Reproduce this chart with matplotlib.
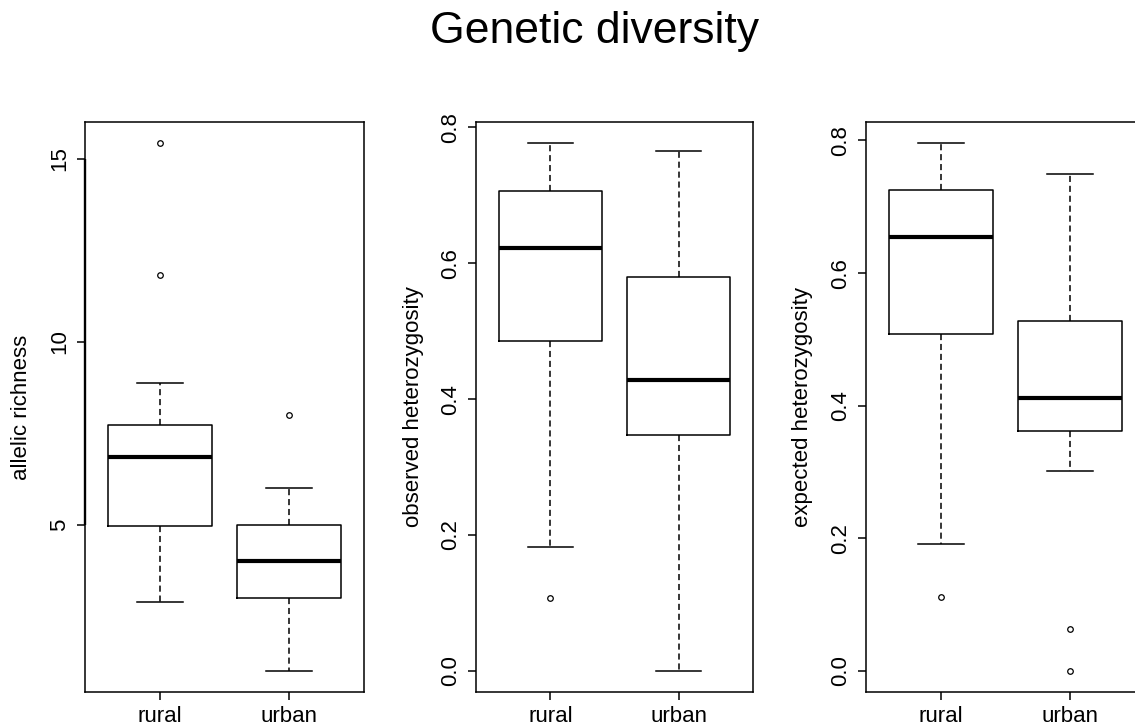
import matplotlib
matplotlib.use("Agg")
import matplotlib.pyplot as plt

plt.rcParams['font.family'] = ['Liberation Sans', 'DejaVu Sans']

# ---- data ----
categories = ["rural", "urban"]

# allelic richness
ar_whislo = [2.88, 1.00]
ar_q1 = [4.97, 3.00]
ar_med = [6.86, 4.00]
ar_q3 = [7.71, 5.00]
ar_whishi = [8.88, 6.00]
ar_fliers = [[11.82, 15.43], [8.0]]

# observed heterozygosity
ho_whislo = [0.183, 0.000]
ho_q1 = [0.486, 0.347]
ho_med = [0.622, 0.428]
ho_q3 = [0.707, 0.580]
ho_whishi = [0.777, 0.766]
ho_fliers = [[0.107], []]

# expected heterozygosity
he_whislo = [0.191, 0.301]
he_q1 = [0.508, 0.362]
he_med = [0.655, 0.411]
he_q3 = [0.725, 0.528]
he_whishi = [0.796, 0.750]
he_fliers = [[0.112], [0.063, 0.0]]

ylabels = ["allelic richness", "observed heterozygosity", "expected heterozygosity"]
yticks_list = [[5, 10, 15], [0.0, 0.2, 0.4, 0.6, 0.8], [0.0, 0.2, 0.4, 0.6, 0.8]]
yticklabels_list = [["5", "10", "15"],
                    ["0.0", "0.2", "0.4", "0.6", "0.8"],
                    ["0.0", "0.2", "0.4", "0.6", "0.8"]]
title = "Genetic diversity"

panels = [
    (ar_whislo, ar_q1, ar_med, ar_q3, ar_whishi, ar_fliers),
    (ho_whislo, ho_q1, ho_med, ho_q3, ho_whishi, ho_fliers),
    (he_whislo, he_q1, he_med, he_q3, he_whishi, he_fliers),
]

# ---- layout (pixel boxes) ----
W, H = 1135, 725
boxes_px = [(85, 364, 122, 692), (476, 753, 122, 692), (866, 1145, 122, 692)]
label_x = [-0.229, -0.227, -0.226]

fig = plt.figure(figsize=(W / 100, H / 100), dpi=100)
fig.patch.set_facecolor("white")

for i, (pdata, (l, r, t, b)) in enumerate(zip(panels, boxes_px)):
    ax = fig.add_axes([l / W, 1 - b / H, (r - l) / W, (b - t) / H])
    wlo, q1, med, q3, whi, fl = pdata
    stats = []
    for j, cat in enumerate(categories):
        stats.append(dict(label=cat, whislo=wlo[j], q1=q1[j], med=med[j],
                          q3=q3[j], whishi=whi[j], fliers=fl[j]))
    ax.bxp(stats, positions=[1, 2], widths=0.8, capwidths=0.35,
           showfliers=True, patch_artist=False,
           boxprops=dict(color="black", linewidth=1.1),
           whiskerprops=dict(color="black", linewidth=1.1, linestyle=(0, (4, 2.5))),
           capprops=dict(color="black", linewidth=1.1),
           medianprops=dict(color="black", linewidth=3.0, solid_capstyle="butt"),
           flierprops=dict(marker="o", markersize=4, markerfacecolor="none",
                           markeredgecolor="black", markeredgewidth=0.9))
    # R-style ranges: 4% extension
    allv = wlo + whi + [v for f in fl for v in f]
    lo, hi = min(allv), max(allv)
    ext = 0.04 * (hi - lo)
    ax.set_ylim(lo - ext, hi + ext)
    ax.set_xlim(0.42, 2.58)

    ax.set_xticks([1, 2])
    ax.set_xticklabels(categories)
    ax.set_yticks(yticks_list[i])
    ax.set_yticklabels(yticklabels_list[i])
    ax.tick_params(axis="both", direction="out", length=5.8, width=1.1,
                   color="black", labelsize=16, labelcolor="black")
    ax.tick_params(axis="x", pad=4)
    ax.tick_params(axis="y", pad=5, labelrotation=90)
    for lbl in ax.get_yticklabels():
        lbl.set_va("center")
    for sp in ax.spines.values():
        sp.set_linewidth(1.1)
        sp.set_color("black")
    ax.set_ylabel(ylabels[i], fontsize=16)
    ax.yaxis.set_label_coords(label_x[i], 0.5)
    ax.yaxis.label.set_va("center")
    if i == 0:
        ax.plot([0, 0], [yticks_list[0][0], yticks_list[0][-1]],
                transform=ax.get_yaxis_transform(), color="black",
                linewidth=1.7, clip_on=False, solid_capstyle="butt")

fig.text(595 / W, 1 - 43 / H, title, ha="center", va="baseline", fontsize=32)

fig.savefig("out.png", dpi=100, facecolor="white")
